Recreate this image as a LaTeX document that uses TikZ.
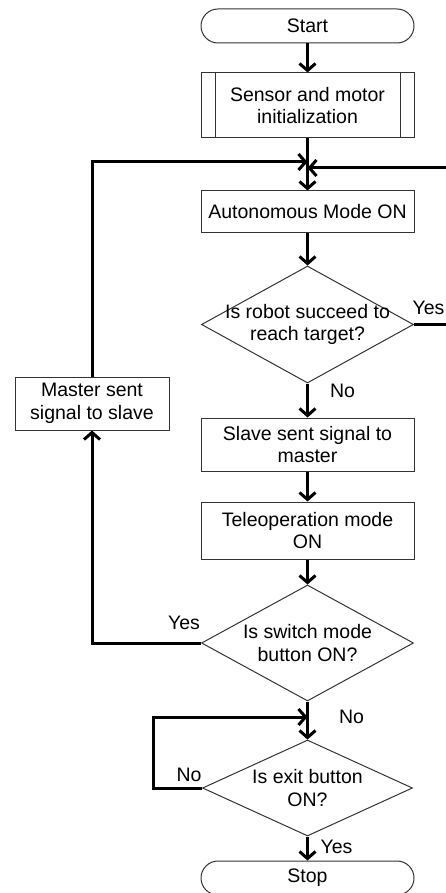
\documentclass[tikz,border=0pt]{standalone}
\usepackage{fontspec}
\setmainfont{Liberation Sans}
\usetikzlibrary{shapes.geometric, arrows.meta}
\tikzset{ proc/.style = { rectangle
                        , draw = black!80
                        , line width   = 1pt
                        , minimum width = 213pt
                        , inner sep    = 0pt
                        , align        = center
                        , font         = \fontsize{19.5}{22.5}\selectfont
                        },
          term/.style = { proc
                        , rounded corners = 17pt
                        , minimum height  = 34pt
                        },
          decision/.style = { diamond
                            , draw = black!80
                            , line width = 1pt
                            , inner sep  = 0pt
                            },
          txt/.style = { inner sep = 0pt
                       , align     = center
                       , font      = \fontsize{19.5}{22.5}\selectfont
                       },
          wire/.style = { line width = 3pt
                        },
          flow/.style = { wire
                        , -{Straight Barb[length=7pt, width=16pt]}
                        }
        }
\begin{document}
\begin{tikzpicture}[x=1pt, y=-1pt]
  \useasboundingbox (0,0) rectangle (445,893);
  % main column
  \node[term] (start) at (307.5,26) {Start};
  \node[proc, minimum height=65pt] (init) at (307.5,105.5) {Sensor and motor\\initialization};
  \draw[draw=black!80, line width=1pt] ([xshift=14.5pt]init.north west) -- ([xshift=14.5pt]init.south west)
                                       ([xshift=-14.5pt]init.north east) -- ([xshift=-14.5pt]init.south east);
  \node[proc, minimum height=42pt] (auto) at (307.5,212) {Autonomous Mode ON};
  \node[decision, minimum width=212pt, minimum height=117pt] (reach) at (307.5,324.5) {};
  \node[txt] (reachtxt) at (reach) {Is robot succeed to\\reach target?};
  \node[proc, minimum height=53pt] (slave) at (307.5,444.5) {Slave sent signal to\\master};
  \node[proc, minimum height=57pt] (tele) at (307.5,530.5) {Teleoperation mode\\ON};
  \node[decision, minimum width=212pt, minimum height=116pt] (switch) at (307.5,643) {};
  \node[txt] (switchtxt) at (switch) {Is switch mode\\button ON?};
  \node[decision, minimum width=210pt, minimum height=96pt] (exit) at (307.5,788) {};
  \node[txt] (exittxt) at (exit) {Is exit button\\ON?};
  \node[term] (stop) at (307.5,878) {Stop};
  % side box
  \node[proc, minimum width=154pt, minimum height=53pt] (master) at (92,403.5) {Master sent\\signal to slave};

  % joints
  \coordinate (jn) at (307.5,165);
  \coordinate (jl) at (307.5,162);
  \coordinate (jr) at (307.5,168);
  \coordinate (rr) at (452,168);
  \coordinate (jx) at (307.5,717);
  \coordinate (ll) at (153,717);

  \draw[flow] (start) -- (init);
  \draw[wire] (init) -- (jn);
  \draw[flow] (jn) -- (auto);
  \draw[flow] (auto) -- (reach.north);
  \draw[flow] (reach.east) -| (rr) -- (jr);
  \draw[flow] (reach.south) -- (slave);
  \draw[flow] (slave) -- (tele);
  \draw[flow] (tele) -- (switch.north);
  \draw[flow] (switch.west) -| (master);
  \draw[flow] (master) |- (jl);
  \draw[wire] (switch.south) -- (jx);
  \draw[flow] (jx) -- (exit.north);
  \draw[flow] (exit.west) -| (ll) -- (jx);
  \draw[flow] (exit.south) -- (stop);

  % branch labels
  \node[txt] (yesreach) at (428.5,308) {Yes};
  \node[txt] (noreach) at (342.5,391) {No};
  \node[txt] (yesswitch) at (184,623) {Yes};
  \node[txt] (noswitch) at (351.5,717) {No};
  \node[txt] (noexit) at (189,775) {No};
  \node[txt] (yesexit) at (336.5,847) {Yes};
\end{tikzpicture}
\end{document}
